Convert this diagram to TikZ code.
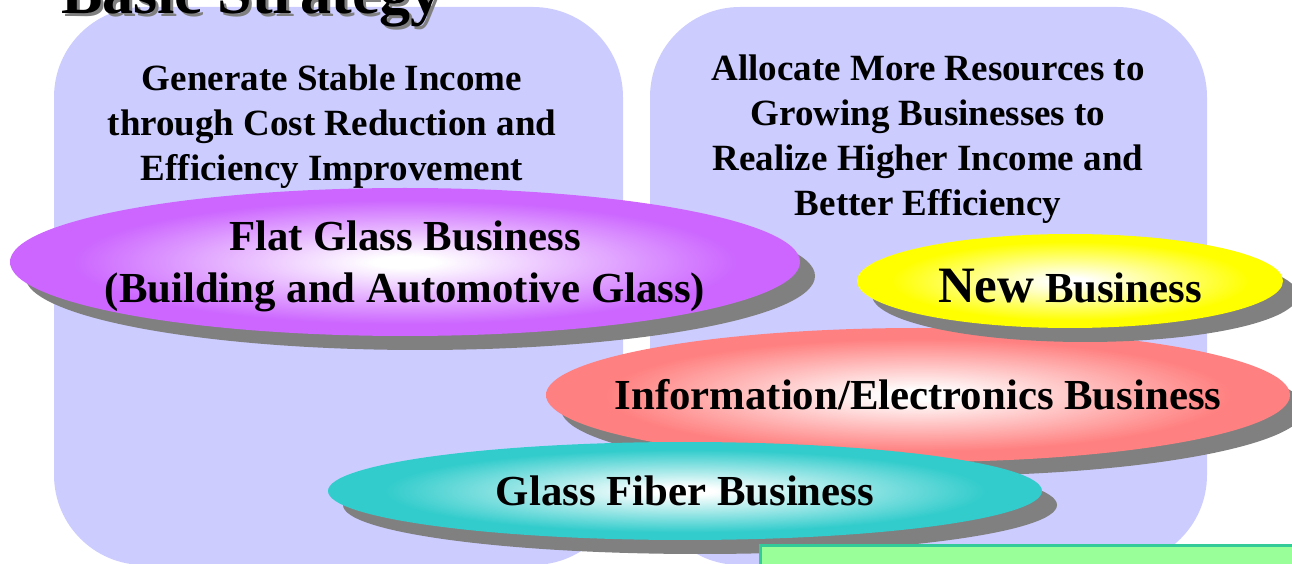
\documentclass[tikz,border=0pt]{standalone}
\usepackage{fontspec}
\setmainfont{Liberation Serif}
\usepackage{tikz}
\usetikzlibrary{shapes.geometric,shadows}

\definecolor{panelbg}{HTML}{CCCCFF}
\definecolor{shadowgray}{HTML}{808080}
\definecolor{flatc}{HTML}{CC66FF}
\definecolor{newc}{HTML}{FFFF00}
\definecolor{infoc}{HTML}{FF8080}
\definecolor{fiberc}{HTML}{33CCCC}
\definecolor{greenbox}{HTML}{99FF99}
\definecolor{greenline}{HTML}{33CC99}

% white core, colour towards the rim
\colorlet{lenscol}{white}
\pgfdeclareradialshading[lenscol]{lens}{\pgfpoint{0bp}{0bp}}{%
  color(0bp)=(white); color(2bp)=(white);
  color(21bp)=(lenscol); color(50bp)=(lenscol)}

\begin{document}
\begin{tikzpicture}[x=0.5pt,y=0.5pt,
  panel/.style={fill=panelbg, rounded corners=45pt},
  head/.style={font=\fontsize{18.5}{22.5}\selectfont\bfseries, align=center},
  biz/.style={ellipse, draw=none, inner sep=0pt,
    /utils/exec={\colorlet{lenscol}{#1}}, shading=lens,
    drop shadow={shadow xshift=7.5pt, shadow yshift=-7pt,
      fill=shadowgray, opacity=1}},
  biztext/.style={font=\fontsize{21.4}{26}\selectfont\bfseries, align=center}]
\def\titlefont{\fontsize{31}{36}\selectfont\bfseries}
\useasboundingbox (0,0) rectangle (1292,563);

% two strategy panels
\fill[panel] (54,-2) rectangle (623,556);
\fill[panel] (650,-2) rectangle (1207,556);

% title with its shadow
\node[anchor=base west, text=shadowgray, font=\titlefont] at (57,546) {Basic Strategy};
\node[anchor=base west, font=\titlefont] (title) at (54,549) {Basic Strategy};

\node[head] (cost) at (332,436)
  {Generate Stable Income\\through Cost Reduction and\\Efficiency Improvement};
\node[head] (grow) at (928,424)
  {Allocate More Resources to\\Growing Businesses to\\Realize Higher Income and\\Better Efficiency};

% businesses
\node[biz=flatc, minimum width=395pt, minimum height=74pt] (flat) at (405,301) {};
\node[biztext] at ([yshift=-2pt]flat) {Flat Glass Business\\(Building and Automotive Glass)};

\node[biz=infoc, minimum width=372pt, minimum height=67pt] (info) at (918,168) {};
\node[biztext] at (info) {Information/Electronics Business};

\node[biz=newc, minimum width=213pt, minimum height=47pt] (newbiz) at (1070,282) {};
\node[biztext] at ([yshift=-2.5pt]newbiz) {{\fontsize{25.5}{30}\selectfont New} Business};

\node[biz=fiberc, minimum width=357pt, minimum height=49pt] (fiber) at (685,72) {};
\node[biztext] at (fiber) {Glass Fiber Business};

\draw[greenline, fill=greenbox, line width=1.5pt] (760,-10) rectangle (1310,18);
\end{tikzpicture}
\end{document}
